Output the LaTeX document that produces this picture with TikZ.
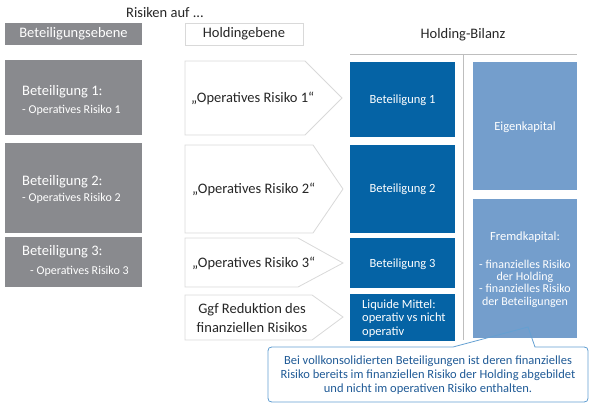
\documentclass[tikz,border=0pt]{standalone}
\usepackage{fontspec}
\setmainfont{Carlito}
\definecolor{gbox}{RGB}{137,138,142}
\definecolor{dblue}{RGB}{5,99,165}
\definecolor{lblue}{RGB}{116,158,204}
\definecolor{cborder}{RGB}{100,160,210}
\definecolor{ctext}{RGB}{31,90,150}
\definecolor{lgrey}{RGB}{217,217,217}
\definecolor{mgrey}{RGB}{190,190,190}
\begin{document}
\begin{tikzpicture}[x=1pt,y=-1pt,
  greybox/.style={fill=gbox,draw=none},
  darkbox/.style={fill=dblue,draw=none},
  lightbox/.style={fill=lblue,draw=none},
  chev/.style={draw=lgrey,fill=white,line width=0.8pt},
  big/.style={font=\fontsize{14.5}{17}\selectfont,inner sep=0pt},
  small/.style={font=\fontsize{12}{14}\selectfont,inner sep=0pt},
  wtext/.style={text=white},
  btext/.style={text=black!85}]
\useasboundingbox (0,0) rectangle (594,406);

% header
\node[big,btext] (risiken) at (165,13) {Risiken auf ...};
\fill[greybox] (5,23) rectangle (142,45);
\node[big,wtext] (bebene) at (73.5,34) {Beteiligungsebene};
\draw[draw=lgrey,line width=0.8pt,fill=white] (185,23) rectangle (303,45);
\node[big,btext] (hebene) at (244,34) {Holdingebene};
\node[big,btext] (bilanz) at (463,35) {Holding-Bilanz};
\draw[mgrey,line width=0.8pt] (350,54) coordinate (hl) -- (577,54) coordinate (hr);
\draw[mgrey,line width=0.8pt] (463,54) coordinate (vt) -- (463,340) coordinate (vb);

% left grey boxes
\fill[greybox] (5,60) rectangle (142,135);
\node[big,wtext,anchor=west] (b1a) at (22,92) {Beteiligung 1:};
\node[small,wtext,anchor=west] (b1b) at (22,110) {- Operatives Risiko 1};
\fill[greybox] (5,143) rectangle (142,233);
\node[big,wtext,anchor=west] (b2a) at (22,182) {Beteiligung 2:};
\node[small,wtext,anchor=west] (b2b) at (22,198) {- Operatives Risiko 2};
\fill[greybox] (5,237) rectangle (142,287);
\node[big,wtext,anchor=west] (b3a) at (22,252) {Beteiligung 3:};
\node[small,wtext,anchor=west] (b3b) at (30,271) {- Operatives Risiko 3};

% chevrons
\draw[chev] (185,61) -- (305,61) -- (342,98) -- (305,135) -- (185,135) -- cycle;
\node[big,btext,anchor=west] (o1) at (191,98) {„Operatives Risiko 1“};
\draw[chev] (185,145) -- (313,145) -- (343,189) -- (313,233) -- (185,233) -- cycle;
\node[big,btext,anchor=west] (o2) at (192,189) {„Operatives Risiko 2“};
\draw[chev] (185,238) -- (298,238) -- (343,263) -- (298,287) -- (185,287) -- cycle;
\node[big,btext,anchor=west] (o3) at (192,263) {„Operatives Risiko 3“};
\draw[chev] (185,295) -- (312,295) -- (343,317) -- (312,340) -- (185,340) -- cycle;
\node[big,btext,align=center] (o4) at (252,318) {Ggf Reduktion des\\[1.5pt]finanziellen Risikos};

% dark blue boxes
\fill[darkbox] (350,62) rectangle (455,137);
\node[small,wtext,font=\fontsize{12.5}{14}\selectfont] (d1) at (402.5,100) {Beteiligung 1};
\fill[darkbox] (350,145) rectangle (455,233);
\node[small,wtext,font=\fontsize{12.5}{14}\selectfont] (d2) at (402.5,189) {Beteiligung 2};
\fill[darkbox] (350,238) rectangle (455,288);
\node[small,wtext,font=\fontsize{12.5}{14}\selectfont] (d3) at (402.5,264) {Beteiligung 3};
\fill[darkbox] (350,294) rectangle (455,341);
\node[small,wtext,anchor=west,align=left,font=\fontsize{12.5}{13.5}\selectfont] (d4) at (362,318.5) {Liquide Mittel:\\operativ vs nicht\\operativ};

% light blue boxes
\fill[lightbox] (473,62) rectangle (577,190);
\node[small,wtext,font=\fontsize{12.5}{14}\selectfont] (ek) at (525,127) {Eigenkapital};
\fill[lightbox] (473,199) rectangle (577,338);
\node[small,wtext,font=\fontsize{12.5}{14}\selectfont] (fk) at (525,237) {Fremdkapital:};
\node[small,wtext,align=center,font=\fontsize{12}{12.4}\selectfont] (fk2) at (525,283.5) {- finanzielles Risiko\\der Holding\\- finanzielles Risiko\\der Beteiligungen};

% callout
\draw[cborder,line width=0.8pt] (276,347) -- (453,347) -- (528,327) -- (535,347) -- (580,347)
  .. controls (588,347) .. (588,355) -- (588,394) .. controls (588,402) .. (580,402)
  -- (276,402) .. controls (268,402) .. (268,394) -- (268,355) .. controls (268,347) .. (276,347) -- cycle;
\node[small,text=ctext,align=center,font=\fontsize{12.5}{14}\selectfont] (note) at (428,375) {Bei vollkonsolidierten Beteiligungen ist deren finanzielles\\Risiko bereits im finanziellen Risiko der Holding abgebildet\\und nicht im operativen Risiko enthalten.};
\end{tikzpicture}
\end{document}
